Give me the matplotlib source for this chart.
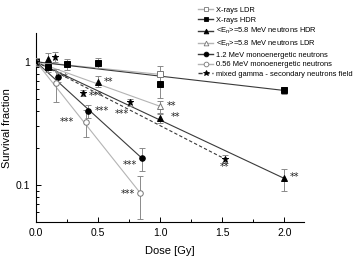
import numpy as np
import matplotlib.pyplot as plt
from matplotlib.ticker import FixedLocator, NullFormatter

plt.rcParams["font.family"] = ["Liberation Sans", "DejaVu Sans"]

# data (dose in Gy, survival fraction)
xl_dose = [0.0, 1.0]
xl_sf = [1.0, 0.79]
xl_err = [0.08, 0.13]

xh_dose = [0.0, 0.1, 0.25, 0.5, 1.0, 2.0]
xh_sf = [1.0, 0.90, 0.96, 0.98, 0.66, 0.585]
xh_err = [0.08, 0.08, 0.1, 0.09, 0.15, 0.04]

th_dose = [0.0, 0.1, 0.5, 1.0, 2.0]
th_sf = [1.0, 1.05, 0.69, 0.347, 0.113]
th_err = [0.08, 0.13, 0.07, 0.03, 0.023]

tl_dose = [0.0, 1.0]
tl_sf = [1.0, 0.435]
tl_err = [0.08, 0.05]

c12_dose = [0.0, 0.18, 0.42, 0.85]
c12_sf = [1.0, 0.75, 0.40, 0.166]
c12_err = [0.08, 0.07, 0.05, 0.035]

c056_dose = [0.0, 0.16, 0.40, 0.84]
c056_sf = [1.0, 0.67, 0.326, 0.086]
c056_err = [0.08, 0.2, 0.08, 0.033]

mix_dose = [0.0, 0.15, 0.38, 0.76, 1.52]
mix_sf = [1.0, 1.1, 0.557, 0.47, 0.163]
mix_err = [0.08, 0.1, 0.03, 0.03, 0.012]

# fitted lines: end points
fit_xl = ([0, 1.0], [1.0, 0.79])
fit_xh = ([0, 2.0], [1.0, 0.585])
fit_th = ([0, 2.0], [1.0, 0.113])
fit_tl = ([0, 1.0], [1.0, 0.435])
fit_c12 = ([0, 0.85], [1.0, 0.166])
fit_c056 = ([0, 0.84], [1.0, 0.086])
fit_mix = ([0, 1.52], [1.0, 0.163])

# significance marks: text, x, y (data coords)
stars = [
    ("*", 0.235, 0.74), ("**", 0.58, 0.69), ("***", 0.48, 0.53),
    ("***", 0.53, 0.395), ("***", 0.25, 0.325), ("***", 0.69, 0.38),
    ("**", 1.09, 0.44), ("**", 1.12, 0.357), ("***", 0.76, 0.145),
    ("***", 0.74, 0.085), ("**", 1.52, 0.14), ("**", 2.08, 0.117),
]

dark = "#3a3a3a"
light = "#b4b4b4"
ebc = "#8a8a8a"

fig = plt.figure(figsize=(3.58, 2.57), dpi=100)
ax = fig.add_axes([0.1006, 0.136, 0.749, 0.734])

def series(d, s, e, fit, marker, mfc, mec, lc, ls, label, ms=4.0):
    ax.plot(fit[0], fit[1], color=lc, lw=0.8, ls=ls, zorder=2)
    ax.errorbar(d, s, yerr=e, fmt="none", ecolor=ebc, elinewidth=0.7,
                capsize=2, capthick=0.7, zorder=3)
    ax.plot(d, s, ls="none", marker=marker, mfc=mfc, mec=mec, mew=0.7,
            ms=ms, zorder=4)
    ax.plot([], [], color=lc if ls == "-" else dark, lw=1.0, ls=ls,
            marker=marker, mfc=mfc, mec=mec, ms=ms * 0.85, mew=0.6, label=label)

series(xl_dose, xl_sf, xl_err, fit_xl, "s", "white", "#777777", light, "-", "X-rays LDR")
series(xh_dose, xh_sf, xh_err, fit_xh, "s", "black", "black", dark, "-", "X-rays HDR")
series(th_dose, th_sf, th_err, fit_th, "^", "black", "black", dark, "-",
       r"<E$_{\rm n}$>=5.8 MeV neutrons HDR")
series(tl_dose, tl_sf, tl_err, fit_tl, "^", "white", "#777777", light, "-",
       r"<E$_{\rm n}$>=5.8 MeV neutrons LDR")
series(c12_dose, c12_sf, c12_err, fit_c12, "o", "black", "black", dark, "-",
       "1.2 MeV monoenergetic neutrons")
series(c056_dose, c056_sf, c056_err, fit_c056, "o", "white", "#777777", light, "-",
       "0.56 MeV monoenergetic neutrons")
series(mix_dose, mix_sf, mix_err, fit_mix, "*", "black", "black", dark, (0, (3, 2)),
       "mixed gamma - secondary neutrons field", ms=5)

for t, x, y in stars:
    ax.text(x, y, t, fontsize=7, family="DejaVu Sans", ha="center", va="center",
            color="#222222")

ax.set_yscale("log")
ax.set_xlim(0, 2.16)
ax.set_ylim(0.05, 1.7)
ax.xaxis.set_major_locator(FixedLocator([0, 0.5, 1.0, 1.5, 2.0]))
ax.xaxis.set_minor_locator(FixedLocator([0.25, 0.75, 1.25, 1.75]))
ax.set_xticklabels(["0.0", "0.5", "1.0", "1.5", "2.0"])
ax.yaxis.set_major_locator(FixedLocator([0.1, 1]))
ax.set_yticklabels(["0.1", "1"])
ax.yaxis.set_minor_locator(FixedLocator([0.06, 0.07, 0.08, 0.09, 0.2, 0.3, 0.4,
                                         0.5, 0.6, 0.7, 0.8, 0.9]))
ax.yaxis.set_minor_formatter(NullFormatter())
ax.tick_params(which="both", direction="in", labelsize=7.5, width=0.7)
ax.tick_params(which="major", length=3.5, pad=4)
ax.tick_params(which="minor", length=2)
for s in ["top", "right"]:
    ax.spines[s].set_visible(False)
for s in ["left", "bottom"]:
    ax.spines[s].set_linewidth(0.8)

ax.set_xlabel("Dose [Gy]", fontsize=8, labelpad=6)
ax.set_ylabel("Survival fraction", fontsize=8, labelpad=3)

fig.legend(loc="upper left", bbox_to_anchor=(0.545, 0.985), frameon=False,
           fontsize=5.4, handlelength=2.0, handletextpad=0.4, labelspacing=0.32,
           borderaxespad=0)

fig.savefig("out.png", dpi=100)
